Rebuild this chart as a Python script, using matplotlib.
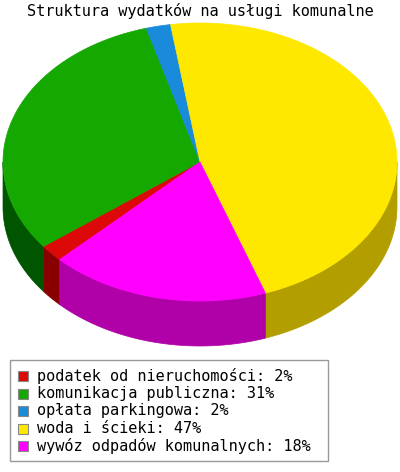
import matplotlib
matplotlib.use("Agg")
import matplotlib.pyplot as plt
import numpy as np
from matplotlib.patches import Polygon, Rectangle

title = "Struktura wydatków na usługi komunalne"
labels = ["podatek od nieruchomości", "komunikacja publiczna", "opłata parkingowa",
          "woda i ścieki", "wywóz odpadów komunalnych"]
values = [2, 31, 2, 47, 18]
top_colors = ["#dd0808", "#14a800", "#1a8adb", "#ffe800", "#ff00ff"]
side_colors = ["#880000", "#005500", "#0f5a90", "#b39e00", "#b000a8"]

plt.rcParams['font.family'] = ['DejaVu Sans Mono', 'DejaVu Sans']

# pie geometry in pixels
cx, cy = 200, 162
rx, ry = 197, 139
depth = 45
start = 224.6  # degrees, slices run clockwise

fig = plt.figure(figsize=(4.0, 4.72), dpi=100)
ax = fig.add_axes([0, 0, 1, 1])
ax.set_xlim(0, 400)
ax.set_ylim(472, 0)
ax.axis("off")

def arc(a, b, dy=0):
    t = np.radians(np.linspace(a, b, 200))
    return np.column_stack([cx + rx * np.cos(t), cy - ry * np.sin(t) + dy])

frac = np.array(values, dtype=float) / sum(values)
ends = start - np.cumsum(frac) * 360
begins = np.concatenate([[start], ends[:-1]])

# side walls (front half only: 180..360 degrees)
for b0, e0, col in zip(begins, ends, side_colors):
    hi, lo = b0, e0
    for shift in (0, 360, -360):
        a = max(lo + shift, 180)
        b = min(hi + shift, 360)
        if b > a:
            top = arc(a, b)
            bot = arc(b, a, depth)
            ax.add_patch(Polygon(np.vstack([top, bot]), closed=True,
                                 facecolor=col, edgecolor=col, lw=0.5))

# top surface
for b0, e0, col in zip(begins, ends, top_colors):
    pts = np.vstack([[cx, cy], arc(b0, e0)])
    ax.add_patch(Polygon(pts, closed=True, facecolor=col, edgecolor=col, lw=0.5))

ax.text(200, 11, title, ha="center", va="center", fontsize=11, color="black")

# legend
ax.add_patch(Rectangle((10, 360), 318, 101, facecolor="white", edgecolor="#999999", lw=1))
for i, (lab, v, col) in enumerate(zip(labels, values, top_colors)):
    y = 376 + i * 17.5
    ax.add_patch(Rectangle((18, y - 5), 10, 10, facecolor=col, edgecolor="#888888", lw=0.8))
    ax.text(37, y, f"{lab}: {v}%", ha="left", va="center", fontsize=11, color="black")

fig.savefig("out.png", dpi=100)
